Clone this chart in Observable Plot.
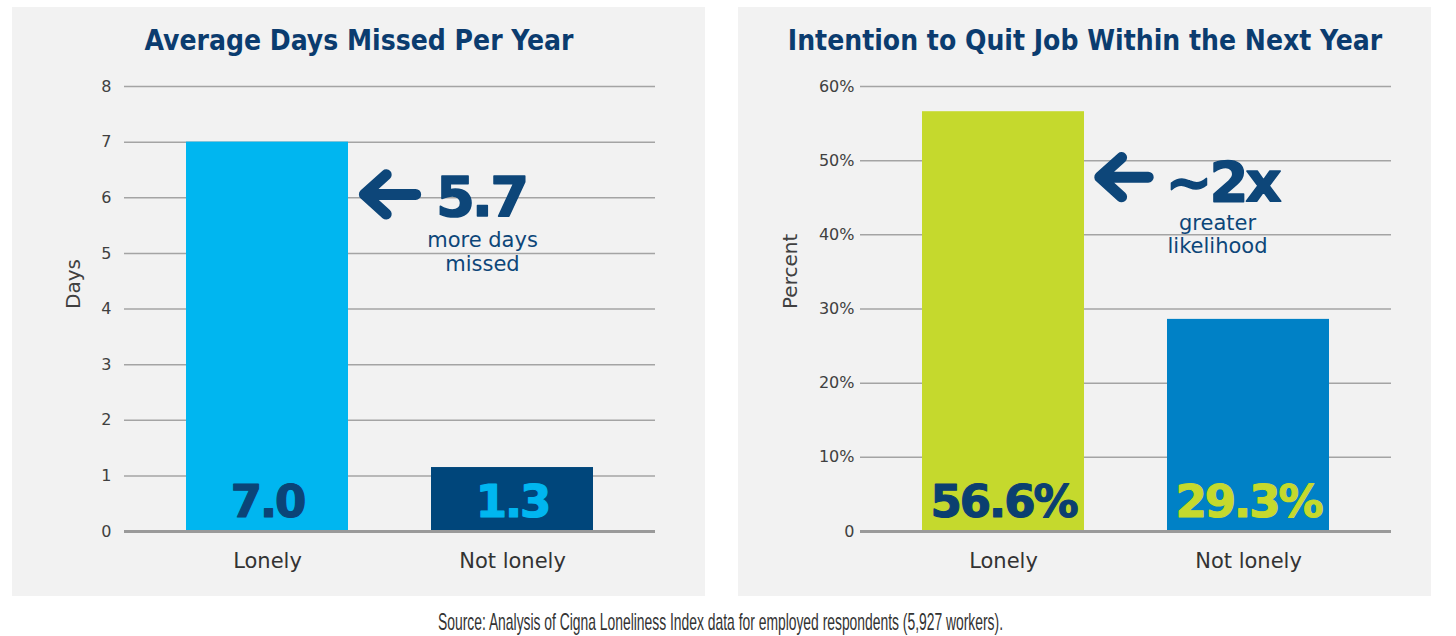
<!DOCTYPE html>
<html><head><meta charset="utf-8">
<script src="https://cdn.jsdelivr.net/npm/d3@7"></script>
<script src="https://cdn.jsdelivr.net/npm/@observablehq/plot@0.6"></script>
<style>
html,body{margin:0;padding:0;background:#fff;}
#root{position:relative;width:1456px;height:636px;overflow:hidden;background:#fff;}
.panel{position:absolute;top:7px;width:693px;height:589px;background:#f2f2f2;}
.panel svg{position:absolute;left:0;top:0;}
#source{position:absolute;left:0;top:610px;white-space:nowrap;font-family:"Liberation Sans Narrow","Liberation Sans",sans-serif;font-size:24px;line-height:24px;color:#333;transform-origin:0 0;}
</style></head>
<body>
<div id="root">
  <div class="panel" id="left" style="left:12px"></div>
  <div class="panel" id="right" style="left:738px"></div>
  <div id="source">Source: Analysis of Cigna Loneliness Index data for employed respondents (5,927 workers).</div>
</div>
<script>
// ---- data ----
const categories = ["Lonely", "Not lonely"];
const daysValues = [7.0, 1.15];
const daysLabels = ["7.0", "1.3"];
const quitValues = [56.6, 28.6];
const quitLabels = ["56.6%", "29.3%"];
const daysTicks = [0, 1, 2, 3, 4, 5, 6, 7, 8];
const quitTicks = [0, 10, 20, 30, 40, 50, 60];
const titles = ["Average Days Missed Per Year", "Intention to Quit Job Within the Next Year"];
const yLabels = ["Days", "Percent"];
const daysCallout = [{from: "Not lonely", to: "Lonely", arrowY: 6.06, bigY: 5.68, big: "5.7", noteY: 4.68, note: "more days\nmissed"}];
const quitCallout = [{from: "Not lonely", to: "Lonely", arrowY: 47.77, bigY: 44.6, big: "~2x", noteY: 37.58, note: "greater\nlikelihood"}];

// ---- styles ----
const NAVY = "#0d4679";
const TITLE = "#0b3c6f";

function makePanel(el, cfg) {
  const W = 693, H = 589, plotW = 531;
  const data = categories.map((c, i) => ({cat: c, value: cfg.values[i], label: cfg.labels[i], fill: cfg.barColors[i], labelFill: cfg.labelColors[i]}));
  const mr = W - cfg.ml - plotW;
  const chart = Plot.plot({
    width: W, height: H,
    marginLeft: cfg.ml, marginRight: mr, marginTop: 79, marginBottom: 65,
    style: {background: "transparent", fontFamily: "DejaVu Sans", overflow: "visible"},
    x: {domain: categories, paddingInner: 0.34, paddingOuter: 0.25},
    y: {domain: cfg.domain},
    color: {type: "identity"},
    marks: [
      Plot.ruleY(cfg.ticks.filter(t => t > 0), {stroke: "#a4a4a4", strokeWidth: 1.5}),
      Plot.barY(data, {x: "cat", y: "value", fill: "fill"}),
      Plot.ruleY([0], {stroke: "#9a9a9a", strokeWidth: 3}),
      Plot.axisY({ticks: cfg.ticks, tickSize: 0, tickPadding: cfg.tp, tickFormat: cfg.fmt, fontSize: 16, fill: "#404040", label: null}),
      Plot.axisX({tickSize: 0, tickPadding: 22, fontSize: 21, fill: "#333", label: null}),
      Plot.text(data, {x: "cat", y: 0, dy: -15, text: "label", fill: "labelFill", stroke: "labelFill", strokeWidth: 1.2, lineAnchor: "bottom", fontSize: 45, fontWeight: "bold", fontFamily: "DejaVu Sans"}),
      Plot.text([cfg.title], {frameAnchor: "top", dx: W / 2 - (cfg.ml + (W - mr)) / 2, dy: -37, lineAnchor: "bottom", fontSize: 28, fontWeight: "bold", fill: TITLE, fontFamily: "DejaVu Sans Condensed"}),
      Plot.text([cfg.yLabel], {frameAnchor: "left", rotate: -90, dx: cfg.ylDx, fontSize: 20, fill: "#404040"}),
      Plot.arrow(cfg.callout, {x1: "from", x2: "to", y1: "arrowY", y2: "arrowY", stroke: NAVY, strokeWidth: 11, headAngle: 84, headLength: 4, insetStart: cfg.insetStart, insetEnd: cfg.insetEnd, strokeLinecap: "round", strokeLinejoin: "round"}),
      Plot.text(cfg.callout, {x: "from", y: "bigY", text: "big", textAnchor: "start", dx: cfg.bigDx, lineAnchor: "bottom", fontSize: 56, fontWeight: "bold", fill: NAVY, stroke: NAVY, strokeWidth: 1.5, fontFamily: "DejaVu Sans"}),
      Plot.text(cfg.callout, {x: "from", y: "noteY", text: "note", dx: cfg.noteDx, lineAnchor: "bottom", lineHeight: cfg.noteLH, fontSize: 21, fill: NAVY})
    ]
  });
  d3.select(chart).selectAll('g[aria-label="text"][font-size="45"]').attr("letter-spacing", "-2");
  d3.select(chart).selectAll('g[aria-label="text"][font-size="56"]').attr("letter-spacing", "-3");
  el.appendChild(chart);
}

makePanel(document.getElementById("left"), {
  values: daysValues, labels: daysLabels, ticks: daysTicks, domain: [0, 8],
  barColors: ["#00b6f0", "#00467b"], labelColors: ["#0b4477", "#00b6f0"],
  ml: 112, tp: 13, fmt: d => String(d), title: titles[0], yLabel: yLabels[0], ylDx: -51,
  callout: daysCallout, insetStart: 96.85, insetEnd: 96.9, bigDx: -76.6, noteDx: -30, noteLH: 24 / 21
});
makePanel(document.getElementById("right"), {
  values: quitValues, labels: quitLabels, ticks: quitTicks, domain: [0, 60],
  barColors: ["#c5d92d", "#0081c6"], labelColors: ["#0b3f70", "#c5d92d"],
  ml: 122, tp: 6, fmt: d => d === 0 ? "0" : d + "%", title: titles[1], yLabel: yLabels[1], ylDx: -70,
  callout: quitCallout, insetStart: 100.3, insetEnd: 96.3, bigDx: -83, noteDx: -31, noteLH: 23 / 21
});

// fit the condensed source line to its width
const src = document.getElementById("source");
const w = src.getBoundingClientRect().width;
const target = 565;
const s = target / w;
src.style.left = (720.5 - target / 2) + "px";
src.style.transform = `scaleX(${s})`;
</script>
</body></html>
